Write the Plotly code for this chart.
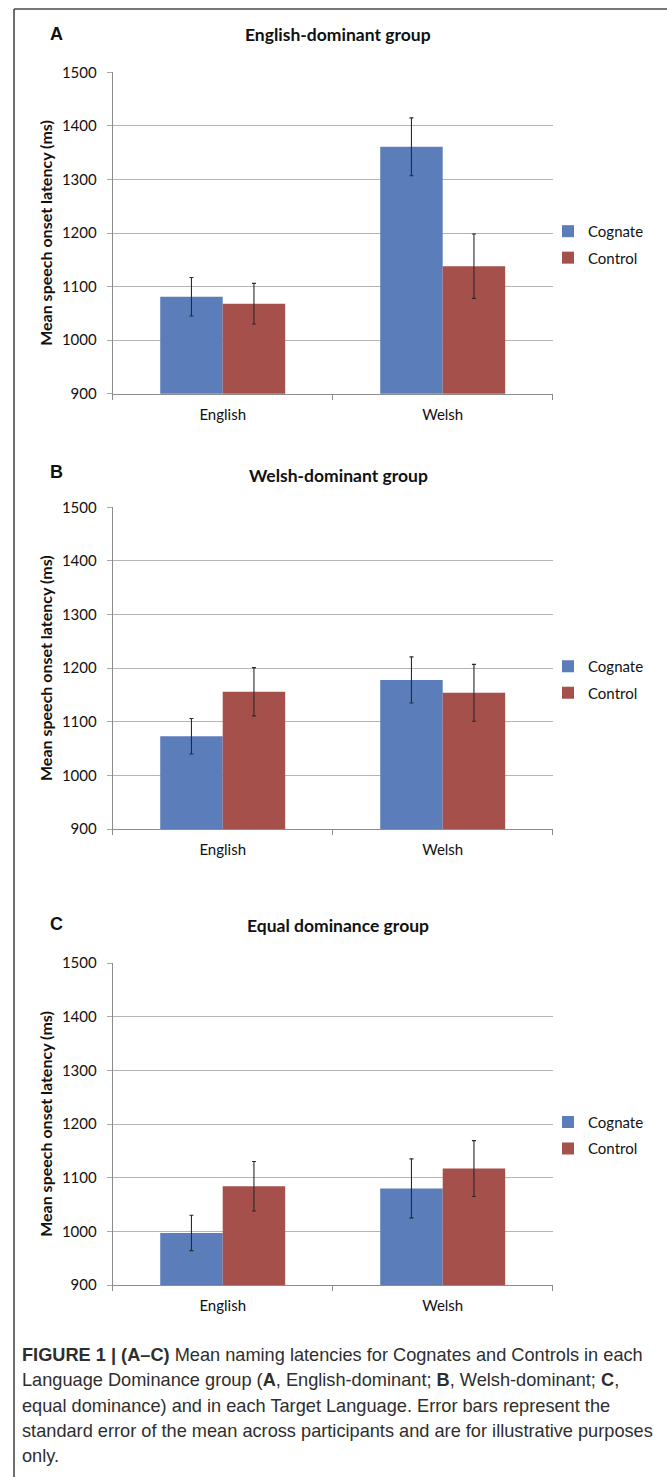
import plotly.graph_objects as go

W, H = 667, 1477

# ---------------- data ----------------
categories = ["English", "Welsh"]
series_names = ["Cognate", "Control"]
panel_letters = ["A", "B", "C"]
panel_titles = ["English-dominant group", "Welsh-dominant group", "Equal dominance group"]

a_cognate = [1081, 1361]
a_cognate_se = [36, 54]
a_control = [1068, 1138]
a_control_se = [38, 60]

b_cognate = [1073, 1178]
b_cognate_se = [33, 43]
b_control = [1156, 1154]
b_control_se = [45, 53]

c_cognate = [997, 1080]
c_cognate_se = [33, 55]
c_control = [1084, 1117]
c_control_se = [46, 52]

y_ticks = [900, 1000, 1100, 1200, 1300, 1400, 1500]
y_title = "Mean speech onset latency (ms)"

caption_lines = [
    "<b>FIGURE 1 | (A–C)</b> Mean naming latencies for Cognates and Controls in each",
    "Language Dominance group (<b>A</b>, English-dominant; <b>B</b>, Welsh-dominant; <b>C</b>,",
    "equal dominance) and in each Target Language. Error bars represent the",
    "standard error of the mean across participants and are for illustrative purposes",
    "only.",
]

panels = [
    (a_cognate, a_cognate_se, a_control, a_control_se),
    (b_cognate, b_cognate_se, b_control, b_control_se),
    (c_cognate, c_cognate_se, c_control, c_control_se),
]

# ---------------- styling / layout ----------------
COL_COG = "#5B7DBA"
COL_CTL = "#A6504C"
CHART_FONT = "Lato, 'Open Sans', sans-serif"
CAP_FONT = "'Liberation Sans', Arial, sans-serif"


def px_x(p):
    return p / W


def px_y(p):
    return 1 - p / H


plot_left, plot_right = 112.7, 552.7
plot_tops = [72.3, 507.3, 963.0]
plot_bottoms = [393.7, 829.0, 1285.0]
title_ys = [34.5, 475.5, 925.0]
letter_ys = [34.0, 472.0, 923.5]
legend_mid_ys = [244.4, 679.5, 1135.2]

fig = go.Figure()

for i, (cog, cog_se, ctl, ctl_se) in enumerate(panels):
    n = "" if i == 0 else str(i + 1)
    leg = "legend" if i == 0 else f"legend{i + 1}"
    for name, vals, se, col in [
        (series_names[0], cog, cog_se, COL_COG),
        (series_names[1], ctl, ctl_se, COL_CTL),
    ]:
        fig.add_trace(
            go.Bar(
                x=categories,
                y=vals,
                name=name,
                marker=dict(color=col, line=dict(width=0)),
                error_y=dict(type="data", array=se, visible=True,
                             color="#2a2a2a", thickness=1.1, width=2),
                xaxis="x" + n,
                yaxis="y" + n,
                legend=leg,
                legendgroup=f"{name}{i}",
                showlegend=True,
            )
        )

layout = dict(
    width=W,
    height=H,
    margin=dict(l=0, r=0, t=0, b=0, pad=0, autoexpand=False),
    paper_bgcolor="white",
    plot_bgcolor="white",
    barmode="group",
    bargap=0.432,
    bargroupgap=0,
    font=dict(family=CHART_FONT, color="#111111", size=15),
    showlegend=True,
)

for i in range(3):
    n = "" if i == 0 else str(i + 1)
    layout["xaxis" + n] = dict(
        domain=[px_x(plot_left), px_x(plot_right)],
        anchor="y" + n,
        type="category",
        categoryorder="array",
        categoryarray=categories,
        range=[-0.5, 1.5],
        automargin=False,
        showline=True,
        linecolor="#8c8c8c",
        linewidth=1,
        ticks="outside",
        tickson="boundaries",
        ticklen=5,
        tickcolor="#8c8c8c",
        tickfont=dict(family=CHART_FONT, size=15, color="#111111"),
        ticklabelstandoff=7,
        showgrid=False,
        fixedrange=True,
    )
    layout["yaxis" + n] = dict(
        domain=[px_y(plot_bottoms[i]), px_y(plot_tops[i])],
        anchor="x" + n,
        range=[900, 1500],
        tickvals=y_ticks,
        automargin=False,
        showline=True,
        linecolor="#8c8c8c",
        linewidth=1,
        ticks="outside",
        ticklen=5,
        tickcolor="#a8a8a8",
        showgrid=True,
        gridcolor="#b4b4b4",
        gridwidth=1,
        zeroline=False,
        tickfont=dict(family=CHART_FONT, size=15, color="#111111"),
        ticklabelstandoff=7,
        title=dict(text=f"<b>{y_title}</b>",
                   font=dict(family=CHART_FONT, size=16, color="#111111"),
                   standoff=5),
        fixedrange=True,
    )
    leg = "legend" if i == 0 else f"legend{i + 1}"
    layout[leg] = dict(
        x=px_x(548),
        xanchor="left",
        y=px_y(legend_mid_ys[i]),
        yanchor="middle",
        orientation="v",
        bgcolor="rgba(0,0,0,0)",
        borderwidth=0,
        tracegroupgap=4,
        font=dict(family=CHART_FONT, size=15, color="#111111"),
    )

fig.update_layout(**layout)

annotations = []
for i in range(3):
    annotations.append(dict(
        text=f"<b>{panel_titles[i]}</b>",
        xref="paper", yref="paper",
        x=px_x(338.4), y=px_y(title_ys[i]),
        xanchor="center", yanchor="middle",
        showarrow=False,
        font=dict(family=CHART_FONT, size=17.5, color="#111111"),
    ))
    annotations.append(dict(
        text=f"<b>{panel_letters[i]}</b>",
        xref="paper", yref="paper",
        x=px_x(56), y=px_y(letter_ys[i]),
        xanchor="center", yanchor="middle",
        showarrow=False,
        font=dict(family=CAP_FONT, size=18, color="#111111"),
    ))

cap_top = 1355
cap_step = 25.3
for k, line in enumerate(caption_lines):
    annotations.append(dict(
        text=line,
        xref="paper", yref="paper",
        x=px_x(20), y=px_y(cap_top + k * cap_step),
        xanchor="left", yanchor="middle",
        showarrow=False,
        align="left",
        font=dict(family=CAP_FONT, size=18.2, color="#2e2e2e"),
    ))

fig.update_layout(annotations=annotations)

# outer frame of the figure
fig.add_shape(type="line", xref="paper", yref="paper",
              x0=px_x(14), x1=1.0, y0=px_y(9), y1=px_y(9),
              line=dict(color="#4a4a4a", width=1.6))
fig.add_shape(type="line", xref="paper", yref="paper",
              x0=px_x(14), x1=px_x(14), y0=px_y(9), y1=0,
              line=dict(color="#4a4a4a", width=1.6))

# remove the default page margin so the 667x1477 figure fills the window exactly
fig.write_html(
    "out.html",
    config=dict(displayModeBar=False),
    post_script="document.body.style.margin='0';document.body.style.overflow='hidden';",
)
